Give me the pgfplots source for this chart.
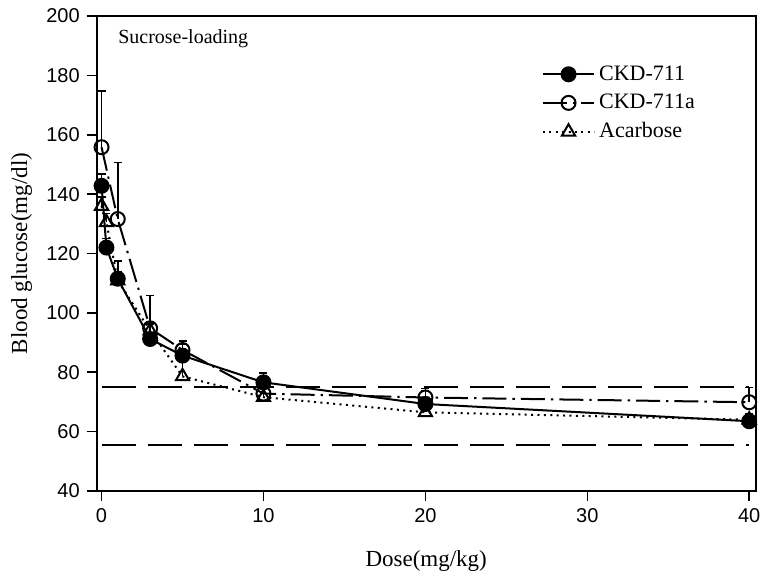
\documentclass[border=0pt]{standalone}
\usepackage{fontspec}
\setmainfont{Liberation Serif}
\newfontfamily\sansnum{Liberation Sans}
\usepackage{pgfplots}
\pgfplotsset{compat=1.18}
\begin{document}
\begin{tikzpicture}
\path[use as bounding box] (-48.35pt,-43.5pt) rectangle (332.65pt,245.5pt);
\begin{axis}[
  scale only axis, width=329.5pt, height=237.5pt,
  xmin=-0.3, xmax=40.4, ymin=40, ymax=200,
  xtick={0,10,20,30,40}, ytick={40,60,...,200},
  tick pos=left, tick align=outside, major tick length=5pt,
  every tick/.style={black, line width=0.8pt},
  axis line style={line width=0.9pt},
  /pgf/number format/assume math mode=true,
  ticklabel style={font=\sansnum\fontsize{10}{12}\selectfont},
  xlabel={Dose(mg/kg)}, ylabel={Blood glucose(mg/dl)},
  label style={font=\fontsize{11.5}{13}\selectfont},
  xlabel style={at={(axis description cs:0.5,0)}, anchor=center, yshift=-35pt},
  ylabel style={at={(axis description cs:0,0.5)}, anchor=center, yshift=37.5pt},
  legend style={draw=none, fill=none, at={(axis description cs:0.675,0.905)}, anchor=north west,
    font=\fontsize{11}{13}\selectfont, row sep=1.5pt, inner sep=0pt,
    /tikz/every even column/.append style={column sep=0pt}},
  legend cell align=left,
  legend image code/.code={\draw[mark repeat=2,mark phase=2,#1] plot coordinates {(0cm,0cm) (0.45cm,0cm) (0.9cm,0cm)};},
  error bars/error bar style={solid, line width=0.8pt},
  error bars/error mark options={rotate=90, mark size=2pt, line width=0.8pt},
]
% reference lines
\addplot[forget plot, black, line width=0.9pt, dash pattern=on 17pt off 6pt] coordinates {(0,75) (40,75)};
\addplot[forget plot, black, line width=0.9pt, dash pattern=on 17pt off 6pt] coordinates {(0,55.5) (40,55.5)};
% CKD-711a (drawn first, under the others)
\addplot[forget plot, black, line width=1pt, dash pattern=on 12pt off 3pt on 1.2pt off 3pt,
  mark=o, mark size=3.5pt, mark options={solid, fill=white},
  error bars/.cd, y dir=plus, y explicit]
  coordinates {
  (0,155.8) +- (0,19)
  (1,131.6) +- (0,19)
  (3,94.8) +- (0,11)
  (5,87.5) +- (0,3)
  (10,72.8) +- (0,3)
  (20,71.5) +- (0,3)
  (40,69.9) +- (0,5)
  };
% CKD-711
\addplot[forget plot, black, line width=1pt, mark=*, mark size=3.5pt, mark options={solid, fill=black},
  error bars/.cd, y dir=plus, y explicit]
  coordinates {
  (0,142.8) +- (0,4)
  (0.3,122) +- (0,3)
  (1,111.5) +- (0,6)
  (3,91.2) +- (0,5)
  (5,85.6) +- (0,4)
  (10,76.6) +- (0,3.2)
  (20,69.3) +- (0,4.5)
  (40,63.5) +- (0,2)
  };
% Acarbose
\addplot[forget plot, black, line width=1pt, dash pattern=on 1pt off 2.2pt,
  mark=triangle, mark size=3.8pt, mark options={solid, fill=white},
  error bars/.cd, y dir=plus, y explicit]
  coordinates {
  (0,136) +- (0,3)
  (0.3,130.5) +- (0,3)
  (1,110.9) +- (0,3)
  (3,94) +- (0,3)
  (5,78.6) +- (0,7)
  (10,71.6) +- (0,5)
  (20,66.5) +- (0,3)
  (40,64) +- (0,2)
  };
\addlegendimage{black, line width=1pt, mark=*, mark size=3.5pt, mark options={solid, fill=black}}
\addlegendentry{CKD-711}
\addlegendimage{black, line width=1pt, dash pattern=on 12pt off 3pt on 1.2pt off 3pt, mark=o, mark size=3.5pt, mark options={solid, fill=white}}
\addlegendentry{CKD-711a}
\addlegendimage{black, line width=1pt, dash pattern=on 1pt off 2.2pt, mark=triangle, mark size=3.8pt, mark options={solid, fill=white}}
\addlegendentry{Acarbose}
\node[anchor=west, font=\fontsize{10}{12}\selectfont] at (axis description cs:0.022,0.952) {Sucrose-loading};
\end{axis}
\end{tikzpicture}
\end{document}
